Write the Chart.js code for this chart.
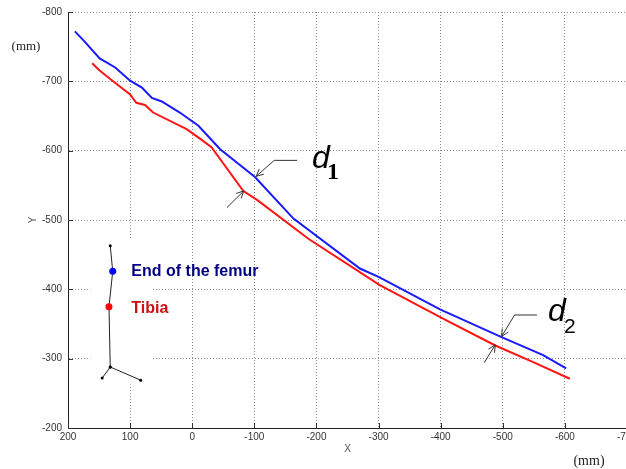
<!DOCTYPE html>
<html>
<head>
<meta charset="utf-8">
<script src="https://cdn.jsdelivr.net/npm/chart.js@4.4.1/dist/chart.umd.min.js"></script>
<style>
    html, body { margin: 0; padding: 0; background: #fff; }
    #wrap { width: 626px; height: 469px; overflow: hidden; position: relative; }
</style>
</head>
<body>
<div id="wrap"><canvas id="kneeChart" width="650" height="469"></canvas></div>
<script>
// #### DATA ####
let femurX = [189, 175, 149, 124, 100, 81, 65, 49, 20, -10, -45, -101, -163, -270, -300, -399, -498, -565, -602];
let femurY = [-772, -759, -733, -720, -701, -691, -676, -671, -655, -636, -602, -562, -502, -430, -418, -371, -331, -305, -286];

let tibiaX = [161, 151, 130, 100, 90, 76, 63, 9, -13, -31, -82, -106, -187, -302, -410, -488, -549, -608];
let tibiaY = [-726, -717, -702, -681, -669, -666, -655, -631, -617, -605, -542, -528, -473, -406, -355, -319, -295, -271];

// little leg sketch in the legend corner: hip -> femur end -> tibia -> ankle -> toe, plus heel
let legX = [132, 128, 134, 132, 145];
let legY = [-463, -426, -375, -288, -272];
let heelX = [132, 83];
let heelY = [-288, -269];

let legendNames = ["End of the femur", "Tibia"];

// #### HELPERS ####
let toPoints = (xs, ys) => xs.map((x, i) => ({x: x, y: ys[i]}));

let px = (chart, x, y) => [chart.scales.x.getPixelForValue(x), chart.scales.y.getPixelForValue(y)];

let arrowHead = (ctx, x0, y0, x1, y1) => {
    let a = Math.atan2(y1 - y0, x1 - x0);
    let len = 8;
    ctx.beginPath();
    ctx.moveTo(x1 - len * Math.cos(a - 0.45), y1 - len * Math.sin(a - 0.45));
    ctx.lineTo(x1, y1);
    ctx.lineTo(x1 - len * Math.cos(a + 0.45), y1 - len * Math.sin(a + 0.45));
    ctx.stroke();
}

// annotation anchors (data units)
let d1Leader = [[-169, -586], [-132, -586], [-103, -563]];
let d1Arrow = [[-56, -518], [-83, -542]];
let d1Label = [-193, -575];
let d2Leader = [[-555, -363], [-519, -363], [-498, -332]];
let d2Arrow = [[-470, -294], [-488, -320]];
let d2Label = [-573, -355];

// #### PLUGIN: legend box, texts, arrows ####
let decorations = {
    id: "decorations",
    beforeDatasetsDraw(chart) {
        let ctx = chart.ctx;
        let area = chart.chartArea;
        ctx.save();
        // white box that hides the grid behind the leg sketch
        let [bx0, by0] = px(chart, 164, -474);
        let [bx1, by1] = px(chart, 65, -263);
        ctx.fillStyle = "#fff";
        ctx.fillRect(bx0, by0, bx1 - bx0, by1 - by0);

        // inward tick marks
        ctx.strokeStyle = "#333";
        ctx.lineWidth = 1;
        ctx.beginPath();
        chart.scales.y.ticks.forEach(t => {
            let y = Math.round(chart.scales.y.getPixelForValue(t.value)) + 0.5;
            ctx.moveTo(area.left, y);
            ctx.lineTo(area.left + 5, y);
        });
        chart.scales.x.ticks.forEach(t => {
            let x = Math.round(chart.scales.x.getPixelForValue(t.value)) + 0.5;
            ctx.moveTo(x, area.bottom);
            ctx.lineTo(x, area.bottom - 5);
        });
        ctx.stroke();
        ctx.restore();
    },
    afterDatasetsDraw(chart) {
        let ctx = chart.ctx;
        let area = chart.chartArea;
        ctx.save();

        // legend labels
        ctx.font = "bold 16px Arial, 'Liberation Sans'";
        ctx.textBaseline = "middle";
        ctx.textAlign = "left";
        let [lx, ly1] = px(chart, 98, -426);
        let [, ly2] = px(chart, 98, -372);
        ctx.fillStyle = "#000080";
        ctx.fillText(legendNames[0], lx, ly1);
        ctx.fillStyle = "#cc1111";
        ctx.fillText(legendNames[1], lx, ly2);

        // d1 / d2 leaders and arrows
        ctx.strokeStyle = "#333";
        ctx.lineWidth = 1;
        for (let [leader, arrow] of [[d1Leader, d1Arrow], [d2Leader, d2Arrow]]) {
            let pts = leader.map(p => px(chart, p[0], p[1]));
            ctx.beginPath();
            ctx.moveTo(pts[0][0], pts[0][1]);
            pts.slice(1).forEach(p => ctx.lineTo(p[0], p[1]));
            ctx.stroke();
            arrowHead(ctx, pts[1][0], pts[1][1], pts[2][0], pts[2][1]);
            let a0 = px(chart, arrow[0][0], arrow[0][1]);
            let a1 = px(chart, arrow[1][0], arrow[1][1]);
            ctx.beginPath();
            ctx.moveTo(a0[0], a0[1]);
            ctx.lineTo(a1[0], a1[1]);
            ctx.stroke();
            arrowHead(ctx, a0[0], a0[1], a1[0], a1[1]);
        }

        ctx.fillStyle = "#000";
        ctx.textBaseline = "alphabetic";
        let [t1x, t1y] = px(chart, d1Label[0], d1Label[1]);
        ctx.font = "italic 32px Arial, 'Liberation Sans'";
        ctx.fillText("d", t1x, t1y);
        ctx.font = "bold 24px 'Liberation Serif', 'Times New Roman'";
        ctx.fillText("1", t1x + 15, t1y + 11);
        let [t2x, t2y] = px(chart, d2Label[0], d2Label[1]);
        ctx.font = "italic 32px Arial, 'Liberation Sans'";
        ctx.fillText("d", t2x, t2y);
        ctx.font = "21px Arial, 'Liberation Sans'";
        ctx.fillText("2", t2x + 16, t2y + 12);

        // axis names and units
        ctx.fillStyle = "#222";
        ctx.textAlign = "center";
        ctx.textBaseline = "middle";
        ctx.font = "13px 'Liberation Serif', 'Times New Roman'";
        ctx.fillText("(mm)", area.left - 42, area.top + 35);
        ctx.font = "14px 'Liberation Serif', 'Times New Roman'";
        ctx.fillText("(mm)", 589, area.bottom + 33);
        ctx.fillStyle = "#555";
        ctx.font = "10px Arial, 'Liberation Sans'";
        ctx.fillText("X", (area.left + 627) / 2, area.bottom + 21);
        ctx.translate(area.left - 35, (area.top + area.bottom) / 2);
        ctx.rotate(-Math.PI / 2);
        ctx.fillText("Y", 0, 0);
        ctx.restore();
    }
};

// #### CHART ####
let gridStyle = {
    color: "#8a8a8a",
    lineWidth: 1,
    drawTicks: false
};

let tickFont = {family: "Arial, 'Liberation Sans'", size: 10};

let kneeChart = new Chart(document.getElementById("kneeChart").getContext("2d"), {
    type: "line",
    data: {
        datasets: [
            {
                label: legendNames[0],
                data: toPoints(femurX, femurY),
                borderColor: "rgb(25,25,255)",
                borderWidth: 2,
                pointRadius: 0,
                tension: 0
            },
            {
                label: legendNames[1],
                data: toPoints(tibiaX, tibiaY),
                borderColor: "rgb(255,20,20)",
                borderWidth: 2,
                pointRadius: 0,
                tension: 0
            },
            {
                label: "leg",
                data: toPoints(legX, legY),
                borderColor: "#222",
                borderWidth: 1,
                pointRadius: [1.5, 3.5, 3.5, 1.5, 1.5],
                pointBorderWidth: 0,
                pointBackgroundColor: ["#000", "#0000ff", "#ff0000", "#000", "#000"],
                tension: 0
            },
            {
                label: "heel",
                data: toPoints(heelX, heelY),
                borderColor: "#222",
                borderWidth: 1,
                pointRadius: 1.5,
                pointBorderWidth: 0,
                pointBackgroundColor: "#000",
                tension: 0
            }
        ]
    },
    options: {
        responsive: false,
        animation: false,
        parsing: true,
        layout: {padding: {top: 11, right: 23, left: 0, bottom: 0}},
        plugins: {
            legend: {display: false},
            tooltip: {enabled: false}
        },
        scales: {
            x: {
                type: "linear",
                reverse: true,
                min: -700,
                max: 200,
                ticks: {stepSize: 100, color: "#333", font: tickFont, padding: 3, maxRotation: 0},
                grid: Object.assign({}, gridStyle),
                border: {display: true, color: "#222", width: 1, dash: [1, 2]},
                afterFit: (scale) => { scale.height = 41; }
            },
            y: {
                type: "linear",
                reverse: true,
                min: -800,
                max: -200,
                ticks: {stepSize: 100, color: "#333", font: tickFont, padding: 6},
                grid: Object.assign({}, gridStyle),
                border: {display: true, color: "#222", width: 1, dash: [1, 2]},
                afterFit: (scale) => { scale.width = 68; }
            }
        }
    },
    plugins: [decorations]
});
</script>
</body>
</html>
